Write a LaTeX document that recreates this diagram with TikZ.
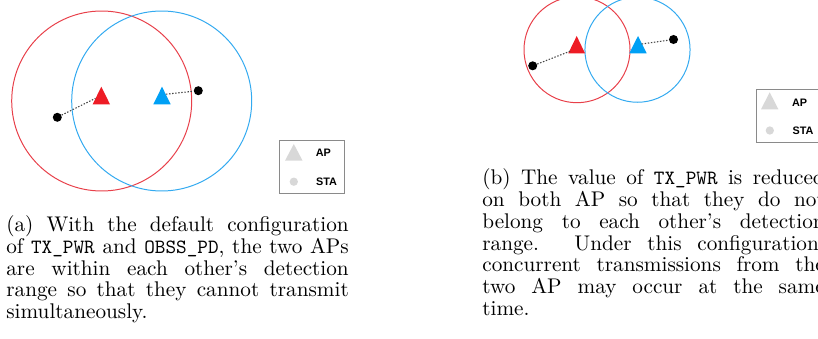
\documentclass[tikz,border=0pt]{standalone}
\usepackage{fontspec}
\newfontfamily\legfont{Liberation Sans}
\newfontfamily\capfont{lmroman10-regular.otf}[Ligatures=TeX]
\newfontfamily\captt{lmmono10-regular.otf}
\newcommand\ttword[1]{{\captt\fontsize{11.2}{12}\selectfont #1}}
\definecolor{apred}{HTML}{EE1C25}
\definecolor{cred}{HTML}{E8404A}
\definecolor{apblue}{HTML}{00A0F5}
\definecolor{cblue}{HTML}{33AAF0}
\definecolor{leggray}{HTML}{D8D8D8}
\definecolor{boxgray}{HTML}{8A8A8A}
\definecolor{lnk}{HTML}{444444}
\tikzset{
  rng/.style={line width=0.55pt},
  stadot/.style={circle, fill=black, inner sep=0pt, minimum size=5pt},
  legdot/.style={circle, fill=leggray, inner sep=0pt, minimum size=4.6pt},
  conn/.style={draw=lnk, line width=0.6pt, dash pattern=on 0.8pt off 0.9pt},
  legbox/.style={draw=boxgray, line width=0.55pt, inner sep=0pt, minimum width=35.8pt, minimum height=29.3pt},
  legtxt/.style={font=\legfont\bfseries\fontsize{6}{7}\selectfont, inner sep=0pt, anchor=west},
  captxt/.style={font=\capfont\fontsize{11.75}{12}\selectfont, text width=189.6pt, align=justify, inner sep=0pt, anchor=base west}
}
\begin{document}
\begin{tikzpicture}[x=0.5537pt,y=-0.5537pt]
\useasboundingbox (0,0) rectangle (818,339);
% ---------- panel (a) ----------
\draw[rng, cred] (101.7,101) circle [radius=49.83pt];
\draw[rng, cblue] (161.7,101) circle [radius=49.83pt];
\fill[apred] (92.7,104.3) -- (101.3,86.7) -- (110,104.3) -- cycle;
\fill[apblue] (153.3,104.3) -- (162,86.7) -- (170.7,104.3) -- cycle;
\coordinate (ra) at (95.5,98.3);
\coordinate (ba) at (166,94.2);
\node[stadot] (sa1) at (57.3,117.3) {};
\node[stadot] (sa2) at (198.3,90.7) {};
\draw[conn] (sa1) -- (ra);
\draw[conn] (ba) -- (sa2);
\node[legbox] (lga) at (311.7,166.7) {};
\fill[leggray] (285,160.7) -- (293.8,144) -- (302.6,160.7) -- cycle;
\node[legdot] (lda) at (293.8,181.7) {};
\node[legtxt] (apa) at (315.5,152.3) {AP};
\node[legtxt] (staa) at (315.8,181.8) {STA};
\node[captxt] (capa) at (6,231.7) {(a) With the default configuration\linebreak of \ttword{TX\_PWR} and \ttword{OBSS\_PD}, the two APs\linebreak are within each other's detection\linebreak range so that they cannot transmit\linebreak simultaneously.};
% ---------- panel (b) ----------
\draw[rng, cred] (577,49.7) circle [radius=29.35pt];
\draw[rng, cblue] (637.5,49.7) circle [radius=29.1pt];
\fill[apred] (568.3,53.3) -- (576.7,36) -- (585,53.3) -- cycle;
\fill[apblue] (629.3,53.3) -- (638,36) -- (646.7,53.3) -- cycle;
\coordinate (rb) at (571.2,50.8);
\coordinate (bb) at (641.7,44);
\node[stadot] (sb1) at (532.7,65.8) {};
\node[stadot] (sb2) at (673.5,39.5) {};
\draw[conn] (sb1) -- (rb);
\draw[conn] (bb) -- (sb2);
\node[legbox, anchor=north west] (lgb) at (755.7,89.3) {};
\fill[leggray] (761,109.3) -- (769.7,92.3) -- (778.4,109.3) -- cycle;
\node[legdot] (ldb) at (769.8,130.5) {};
\node[legtxt] (apb) at (791.7,102.3) {AP};
\node[legtxt] (stab) at (792.2,131) {STA};
\node[captxt] (capb) at (482,185) {(b) The value of \ttword{TX\_PWR} is reduced\linebreak on both AP so that they do not\linebreak belong to each other's detection\linebreak range. Under this configuration,\linebreak concurrent transmissions from the\linebreak two AP may occur at the same\linebreak time.};
\end{tikzpicture}
\end{document}
